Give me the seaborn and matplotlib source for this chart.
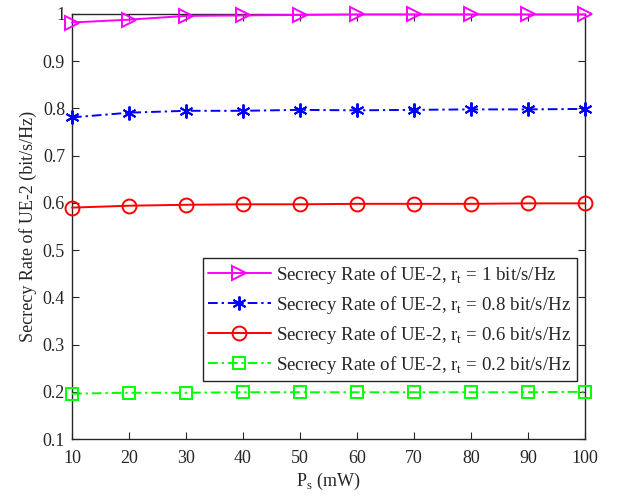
import numpy as np
import pandas as pd
import matplotlib
matplotlib.use("Agg")
import matplotlib.pyplot as plt
import seaborn as sns

# -------------------------- data --------------------------
ps = [10, 20, 30, 40, 50, 60, 70, 80, 90, 100]
rate_rt1 = [0.982, 0.988, 0.996, 0.997, 0.998, 0.999, 0.999, 0.999, 0.999, 0.999]
rate_rt08 = [0.781, 0.791, 0.795, 0.795, 0.797, 0.796, 0.797, 0.798, 0.798, 0.799]
rate_rt06 = [0.590, 0.594, 0.596, 0.597, 0.597, 0.598, 0.598, 0.598, 0.599, 0.599]
rate_rt02 = [0.196, 0.198, 0.198, 0.199, 0.199, 0.199, 0.199, 0.199, 0.199, 0.200]
labels = [r"Secrecy Rate of UE-2, r$_\mathregular{t}$ = 1 bit/s/Hz",
          r"Secrecy Rate of UE-2, r$_\mathregular{t}$ = 0.8 bit/s/Hz",
          r"Secrecy Rate of UE-2, r$_\mathregular{t}$ = 0.6 bit/s/Hz",
          r"Secrecy Rate of UE-2, r$_\mathregular{t}$ = 0.2 bit/s/Hz"]
y_ticks = [0.1, 0.2, 0.3, 0.4, 0.5, 0.6, 0.7, 0.8, 0.9, 1.0]
y_ticklabels = ["0.1", "0.2", "0.3", "0.4", "0.5", "0.6", "0.7", "0.8", "0.9", "1"]

series = [rate_rt1, rate_rt08, rate_rt06, rate_rt02]
frames = [pd.DataFrame({"Ps": ps, "rate": s, "label": lab}) for s, lab in zip(series, labels)]
df = pd.concat(frames, ignore_index=True)

# -------------------------- style --------------------------
sns.set_style("ticks")
plt.rcParams['font.family'] = ['Liberation Serif', 'DejaVu Serif']
plt.rcParams['mathtext.fontset'] = 'custom'
plt.rcParams['mathtext.rm'] = 'Liberation Serif'
plt.rcParams['xtick.direction'] = 'in'
plt.rcParams['ytick.direction'] = 'in'

dashdot = (0, (5, 2, 1.2, 2))
styles = [
    dict(color="#ff00ff", marker=">", ls="-", ms=10),
    dict(color="#0000ff", marker=(6, 2, 0), ls=dashdot, ms=10),
    dict(color="#ff0000", marker="o", ls="-", ms=10),
    dict(color="#00ff00", marker="s", ls=dashdot, ms=8),
]

fig = plt.figure(figsize=(6.18, 5.0), dpi=100)
ax = fig.add_axes([0.1165, 0.122, 0.83, 0.85])

for lab, st in zip(labels, styles):
    sub = df[df["label"] == lab]
    sns.lineplot(data=sub, x="Ps", y="rate", ax=ax, label=lab,
                 color=st["color"], marker=st["marker"], linestyle=st["ls"],
                 linewidth=1.4, markersize=st["ms"], markerfacecolor="none",
                 markeredgecolor=st["color"], markeredgewidth=1.4, clip_on=False, zorder=3)

ax.set_xlim(10, 100)
ax.set_ylim(0.1, 1.0)
ax.set_xticks(ps)
ax.set_yticks(y_ticks)
ax.set_yticklabels(y_ticklabels)
ax.tick_params(labelsize=13, top=True, right=True, length=5, width=0.8, colors="#262626")
ax.tick_params(axis="x", pad=8)
ax.tick_params(axis="y", pad=5)
for sp in ax.spines.values():
    sp.set_visible(True)
    sp.set_linewidth(1.0)
    sp.set_color("#262626")

ax.set_xlabel(r"P$_\mathregular{s}$ (mW)", fontsize=13, labelpad=3)
ax.set_ylabel("Secrecy Rate of UE-2 (bit/s/Hz)", fontsize=13, labelpad=4)

leg = ax.legend(loc="lower right", bbox_to_anchor=(0.984, 0.136), fontsize=13.6,
                frameon=True, fancybox=False, edgecolor="#262626",
                handlelength=3.3, borderpad=0.3, labelspacing=0.42, handletextpad=0.3,
                borderaxespad=0)
leg.get_frame().set_linewidth(1.0)
leg.get_frame().set_alpha(1)
leg.set_zorder(5)

plt.savefig("out.png", dpi=100)
